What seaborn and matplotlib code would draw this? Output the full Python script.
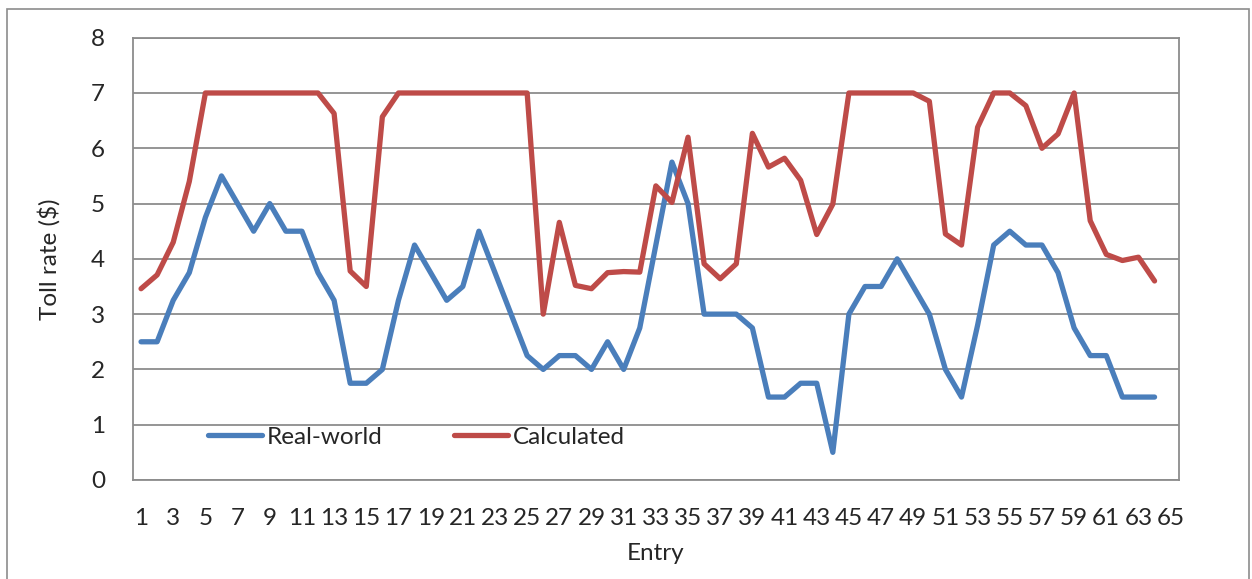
import numpy as np
import pandas as pd
import seaborn as sns
import matplotlib.pyplot as plt
from matplotlib.patches import Rectangle

# toll rate per entry
entries = list(range(1, 65))
real_world = [2.5, 2.5, 3.25, 3.75, 4.75, 5.5, 5.0, 4.5, 5.0, 4.5,
              4.5, 3.75, 3.25, 1.75, 1.75, 2.0, 3.25, 4.25, 3.75, 3.25,
              3.5, 4.5, 3.75, 3.0, 2.25, 2.0, 2.25, 2.25, 2.0, 2.5,
              2.0, 2.75, 4.25, 5.75, 5.0, 3.0, 3.0, 3.0, 2.75, 1.5,
              1.5, 1.75, 1.75, 0.5, 3.0, 3.5, 3.5, 4.0, 3.5, 3.0,
              2.0, 1.5, 2.8, 4.25, 4.5, 4.25, 4.25, 3.75, 2.75, 2.25,
              2.25, 1.5, 1.5, 1.5]
calculated = [3.46, 3.71, 4.3, 5.4, 7.0, 7.0, 7.0, 7.0, 7.0, 7.0,
              7.0, 7.0, 6.63, 3.78, 3.5, 6.57, 7.0, 7.0, 7.0, 7.0,
              7.0, 7.0, 7.0, 7.0, 7.0, 3.0, 4.66, 3.52, 3.46, 3.75,
              3.77, 3.76, 5.32, 5.02, 6.2, 3.91, 3.64, 3.91, 6.27, 5.66,
              5.82, 5.42, 4.44, 4.99, 7.0, 7.0, 7.0, 7.0, 7.0, 6.85,
              4.45, 4.25, 6.38, 7.0, 7.0, 6.77, 6.0, 6.26, 7.0, 4.69,
              4.08, 3.97, 4.03, 3.6]
series_names = ["Real-world", "Calculated"]
colors = ["#4A7EBB", "#BE4B48"]
x_labels = [str(i) for i in range(1, 66, 2)]
y_ticks = list(range(0, 9))

df = pd.DataFrame({
    "Entry": entries * 2,
    "Toll": real_world + calculated,
    "Series": [series_names[0]] * 64 + [series_names[1]] * 64,
})

sns.set_style("white")
plt.rcParams["font.family"] = ["Lato", "DejaVu Sans"]
fs = 17.5

fig = plt.figure(figsize=(12.52, 5.79), dpi=100)
ax = fig.add_axes([133 / 1252, 1 - 480 / 579, (1178.7 - 133) / 1252, (480 - 37.7) / 579])

# outer chart border
fig.patches.append(Rectangle((7 / 1252, -0.05), (1249 - 7) / 1252, 1 - 9 / 579 + 0.05,
                             transform=fig.transFigure, fill=False,
                             edgecolor="#8c8c8c", linewidth=1.2))

sns.lineplot(data=df, x="Entry", y="Toll", hue="Series", palette=colors,
             linewidth=3.8, ax=ax, legend=True)

ax.set_xlim(0.5, 65.5)
ax.set_ylim(0, 8)
ax.set_yticks(y_ticks)
ax.set_xticks(range(1, 66, 2))
ax.set_xticklabels(x_labels)
ax.set_xticks(np.arange(0.5, 66, 1), minor=True)
ax.tick_params(axis="x", which="major", length=0, pad=20, labelsize=fs)
ax.tick_params(axis="x", which="minor", length=6, width=1.2, color="#8c8c8c", direction="out")
ax.tick_params(axis="y", length=7, width=1.2, color="#8c8c8c", direction="out", pad=13, labelsize=fs)
ax.yaxis.grid(True, color="#8c8c8c", linewidth=1.3)
ax.set_axisbelow(True)
for s in ax.spines.values():
    s.set_color("#8c8c8c")
    s.set_linewidth(1.3)

ax.set_xlabel("Entry", fontsize=fs, labelpad=10)
ax.set_ylabel("Toll rate ($)", fontsize=fs, labelpad=22)

handles, labels = ax.get_legend_handles_labels()
ax.legend(handles, labels, loc="center left", bbox_to_anchor=(0.072, 0.097),
          ncol=2, frameon=False, fontsize=fs, handlelength=2.2,
          handletextpad=0.2, columnspacing=2.95, borderpad=0, borderaxespad=0)

plt.savefig("out.png", dpi=100)
